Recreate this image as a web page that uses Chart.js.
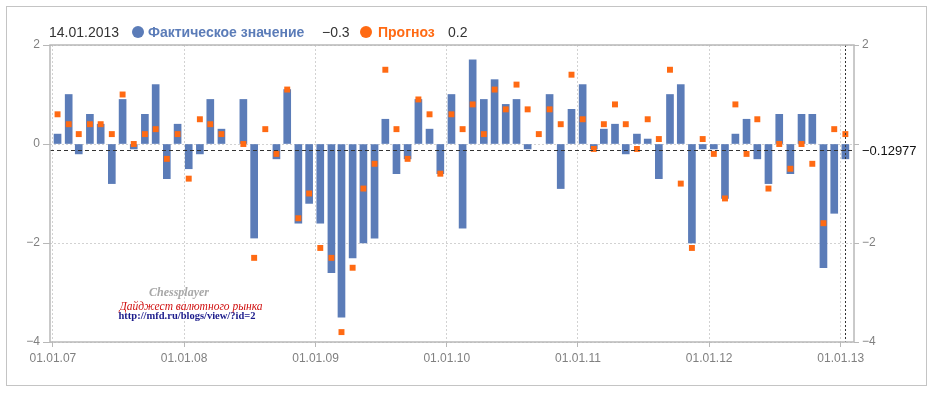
<!DOCTYPE html>
<html lang="ru">
<head>
<meta charset="UTF-8">
<title>Фактическое значение / Прогноз</title>
<script src="https://cdn.jsdelivr.net/npm/chart.js"></script>
<style>
  html, body { margin: 0; padding: 0; background: #fff; }
  #wrap { position: relative; width: 938px; height: 395px; overflow: hidden; }
  #box { position: absolute; left: 6px; top: 6px; width: 919px; height: 378px; border: 1px solid #c4c4c4; }
  #chart { position: absolute; left: 0; top: 0; }
  .hd { position: absolute; top: 24px; font: 14px "Liberation Sans", Arial, sans-serif; color: #333; line-height: 16px; white-space: nowrap; }
  .dot { position: absolute; top: 26px; width: 12px; height: 12px; border-radius: 50%; }
  .wm { position: absolute; white-space: nowrap; transform: translateX(-50%); }
</style>
</head>
<body>
<div id="wrap">
  <div id="box"></div>
  <canvas id="chart" width="938" height="395"></canvas>

  <span class="hd" id="hdDate" style="left:49px"></span>
  <span class="dot" style="left:132px;background:#5b7cb8"></span>
  <span class="hd" style="left:148px;color:#5b7cb8;font-weight:bold">Фактическое значение</span>
  <span class="hd" id="hdActual" style="left:322px"></span>
  <span class="dot" style="left:360px;background:#ff6a13"></span>
  <span class="hd" style="left:378px;color:#ff6a13;font-weight:bold">Прогноз</span>
  <span class="hd" id="hdForecast" style="left:448px"></span>

  <div class="wm" style="left:179px;top:285px;font:italic bold 12px 'Liberation Serif',serif;color:#a8a8a8">Chessplayer</div>
  <div class="wm" style="left:191px;top:300px;font:italic 11.5px 'Liberation Serif',serif;color:#d01010">Дайджест валютного рынка</div>
  <div class="wm" style="left:187px;top:310px;font:bold 10.5px 'Liberation Serif',serif;color:#1c1c8c">http://mfd.ru/blogs/view/?id=2</div>
</div>

<script>
  // monthly release dates (day of month = 14)
  const releaseDates = [
    "2007-01","2007-02","2007-03","2007-04","2007-05","2007-06","2007-07","2007-08","2007-09","2007-10","2007-11","2007-12",
    "2008-01","2008-02","2008-03","2008-04","2008-05","2008-06","2008-07","2008-08","2008-09","2008-10","2008-11","2008-12",
    "2009-01","2009-02","2009-03","2009-04","2009-05","2009-06","2009-07","2009-08","2009-09","2009-10","2009-11","2009-12",
    "2010-01","2010-02","2010-03","2010-04","2010-05","2010-06","2010-07","2010-08","2010-09","2010-10","2010-11","2010-12",
    "2011-01","2011-02","2011-03","2011-04","2011-05","2011-06","2011-07","2011-08","2011-09","2011-10","2011-11","2011-12",
    "2012-01","2012-02","2012-03","2012-04","2012-05","2012-06","2012-07","2012-08","2012-09","2012-10","2012-11","2012-12",
    "2013-01"
  ];

  const actualValues = [
    0.2, 1.0, -0.2, 0.6, 0.4, -0.8, 0.9, -0.1, 0.6, 1.2, -0.7, 0.4,
    -0.5, -0.2, 0.9, 0.3, null, 0.9, -1.9, null, -0.3, 1.1, -1.6, -1.2,
    -1.6, -2.6, -3.5, -2.3, -2.0, -1.9, 0.5, -0.6, -0.3, 0.9, 0.3, -0.6,
    1.0, -1.7, 1.7, 0.9, 1.3, 0.8, 0.9, -0.1, null, 1.0, -0.9, 0.7,
    1.2, -0.1, 0.3, 0.4, -0.2, 0.2, 0.1, -0.7, 1.0, 1.2, -2.0, -0.1,
    -0.1, -1.1, 0.2, 0.5, -0.3, -0.8, 0.6, -0.6, 0.6, 0.6, -2.5, -1.4,
    -0.3
  ];

  const forecastValues = [
    0.6, 0.4, 0.2, 0.4, 0.4, 0.2, 1.0, 0.0, 0.2, 0.3, -0.3, 0.2,
    -0.7, 0.5, 0.4, 0.2, null, 0.0, -2.3, 0.3, -0.2, 1.1, -1.5, -1.0,
    -2.1, -2.3, -3.8, -2.5, -0.9, -0.4, 1.5, 0.3, -0.3, 0.9, 0.6, -0.6,
    0.6, 0.3, 0.8, 0.2, 1.1, 0.7, 1.2, 0.7, 0.2, 0.7, 0.4, 1.4,
    0.5, -0.1, 0.4, 0.8, 0.4, -0.1, 0.5, 0.1, 1.5, -0.8, -2.1, 0.1,
    -0.2, -1.1, 0.8, -0.2, 0.5, -0.9, 0.0, -0.5, 0.0, -0.4, -1.6, 0.3,
    0.2
  ];

  const xTickLabels = ["01.01.07", "01.01.08", "01.01.09", "01.01.10", "01.01.11", "01.01.12", "01.01.13"];
  const yTicks = [2, 0, -2, -4];
  const crossValue = -0.12977;
  const crossDate = "14.01.2013";

  const BLUE = "#5b7cb8";
  const ORANGE = "#ff6a13";
  const DAY = 86400000;
  const base = Date.UTC(2007, 0, 1);

  const dayOf = (y, m, d) => (Date.UTC(y, m - 1, d) - base) / DAY;
  const releaseX = releaseDates.map(s => dayOf(+s.slice(0, 4), +s.slice(5, 7), 14));
  const tickX = xTickLabels.map(s => dayOf(2000 + +s.slice(6, 8), +s.slice(3, 5), +s.slice(0, 2)));

  const minus = v => (v < 0 ? "\u2212" + Math.abs(v) : String(v));

  const barData = [];
  const dotData = [];
  releaseX.forEach((x, i) => {
    if (actualValues[i] !== null) barData.push({ x, y: actualValues[i] });
    if (forecastValues[i] !== null) dotData.push({ x, y: forecastValues[i] });
  });

  document.getElementById("hdDate").textContent = crossDate;
  document.getElementById("hdActual").textContent = minus(actualValues[actualValues.length - 1]);
  document.getElementById("hdForecast").textContent = minus(forecastValues[forecastValues.length - 1]);

  const tickFont = { family: "'Liberation Sans', Arial, sans-serif", size: 12 };

  // frame around the plot + crosshair at the last release
  const framePlugin = {
    id: "frame",
    afterDatasetsDraw(chart) {
      const { ctx, chartArea: a, scales } = chart;
      const cx = scales.x.getPixelForValue(releaseX[releaseX.length - 1]);
      const cy = scales.y.getPixelForValue(crossValue);
      ctx.save();
      ctx.strokeStyle = "#333";
      ctx.lineWidth = 1;
      ctx.setLineDash([4, 3]);
      ctx.beginPath();
      ctx.moveTo(a.left, Math.round(cy) + 0.5);
      ctx.lineTo(a.right, Math.round(cy) + 0.5);
      ctx.stroke();
      ctx.setLineDash([2, 2]);
      ctx.beginPath();
      ctx.moveTo(Math.round(cx) + 0.5, a.top);
      ctx.lineTo(Math.round(cx) + 0.5, a.bottom);
      ctx.stroke();
      ctx.setLineDash([]);
      ctx.strokeStyle = "#b8b8b8";
      ctx.lineWidth = 1.5;
      ctx.strokeRect(a.left, a.top, a.right - a.left, a.bottom - a.top);
      ctx.fillStyle = "#111";
      ctx.font = "13px 'Liberation Sans', Arial, sans-serif";
      ctx.textBaseline = "middle";
      ctx.fillText("\u2212" + Math.abs(crossValue), a.right + 8, cy + 1);
      ctx.restore();
    }
  };

  new Chart(document.getElementById("chart"), {
    type: "bar",
    data: {
      datasets: [
        {
          type: "scatter",
          label: "Прогноз",
          data: dotData,
          order: 0,
          pointStyle: "rect",
          pointRadius: 4.2,
          pointHoverRadius: 4.2,
          backgroundColor: ORANGE,
          borderWidth: 0
        },
        {
          label: "Фактическое значение",
          data: barData,
          order: 1,
          backgroundColor: BLUE,
          barThickness: 7,
          borderWidth: 0
        }
      ]
    },
    options: {
      responsive: false,
      animation: false,
      events: [],
      layout: { padding: { top: 45, left: 0, right: 0, bottom: 0 } },
      plugins: { legend: { display: false }, tooltip: { enabled: false } },
      scales: {
        x: {
          type: "linear",
          offset: false,
          min: -8,
          max: 2229,
          afterFit: s => { s.height = 53; },
          afterBuildTicks: s => { s.ticks = tickX.map(v => ({ value: v })); },
          ticks: {
            autoSkip: false,
            maxRotation: 0,
            padding: 4,
            color: "#808080",
            font: tickFont,
            callback: v => xTickLabels[tickX.indexOf(v)]
          },
          grid: { color: "#d2d2d2", tickColor: "#b8b8b8", tickLength: 5, offset: false },
          border: { display: false, dash: [2, 2] }
        },
        y: {
          position: "left",
          min: -4,
          max: 2,
          afterFit: s => { s.width = 50; },
          afterBuildTicks: s => { s.ticks = yTicks.map(v => ({ value: v })); },
          ticks: { padding: 3, color: "#808080", font: tickFont, callback: v => minus(v) },
          grid: { color: "#d2d2d2", tickColor: "#b8b8b8", tickLength: 7 },
          border: { display: false, dash: [2, 2] }
        },
        y2: {
          position: "right",
          min: -4,
          max: 2,
          afterFit: s => { s.width = 84; },
          afterBuildTicks: s => { s.ticks = yTicks.map(v => ({ value: v })); },
          ticks: { padding: 3, color: "#808080", font: tickFont, callback: v => (v === 0 ? "" : minus(v)) },
          grid: { drawOnChartArea: false, tickColor: "#b8b8b8", tickLength: 5 },
          border: { display: false }
        }
      }
    },
    plugins: [framePlugin]
  });
</script>
</body>
</html>
